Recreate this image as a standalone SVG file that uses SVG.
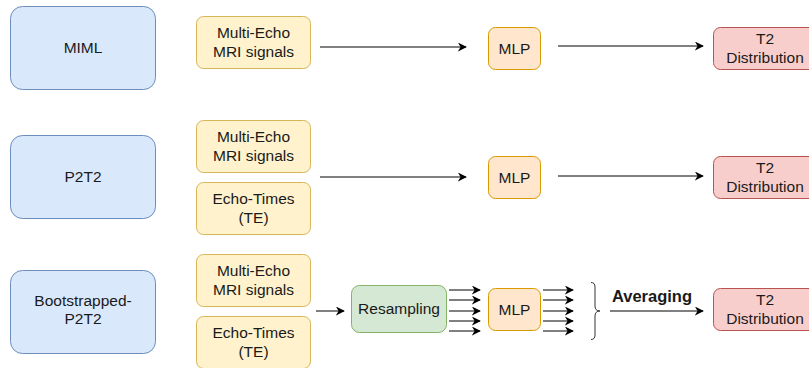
<svg xmlns="http://www.w3.org/2000/svg" width="809" height="368" viewBox="0 0 809 368">
<defs>
<marker id="ah" viewBox="0 0 10 10" refX="9" refY="5" markerWidth="9" markerHeight="9" markerUnits="userSpaceOnUse" orient="auto">
<path d="M0,0 L10,5 L0,10 L3,5 Z" fill="#000"/>
</marker>
<style>
text{font-family:"Liberation Sans",Arial,sans-serif;font-size:15.5px;fill:#1a1a1a;text-anchor:middle}
.blue{fill:#dae8fc;stroke:#6c8ebf;stroke-width:1}
.yel{fill:#fff2cc;stroke:#d6b656;stroke-width:1}
.org{fill:#ffe6cc;stroke:#d79b00;stroke-width:1}
.red{fill:#f8cecc;stroke:#b85450;stroke-width:1}
.grn{fill:#d5e8d4;stroke:#82b366;stroke-width:1}
.ln{stroke:#000;stroke-width:1;fill:none;marker-end:url(#ah)}
.bold{font-weight:bold;font-size:16.5px}
</style>
</defs>

<g id="miml"><rect class="blue" x="10.5" y="6.5" width="145" height="83" rx="12"/><text x="83" y="53">MIML</text></g>
<g id="p2t2"><rect class="blue" x="10.5" y="135.5" width="145" height="83" rx="12"/><text x="83" y="182">P2T2</text></g>
<g id="bp2t2"><rect class="blue" x="10.5" y="270.5" width="145" height="83" rx="12"/><text x="83" y="306">Bootstrapped-</text><text x="83" y="324">P2T2</text></g>

<g id="sig1"><rect class="yel" x="196.5" y="16.5" width="114" height="52" rx="7"/><text x="253.5" y="38">Multi-Echo</text><text x="253.5" y="57">MRI signals</text></g>
<g id="sig2"><rect class="yel" x="196.5" y="120.5" width="114" height="52" rx="7"/><text x="253.5" y="142">Multi-Echo</text><text x="253.5" y="161">MRI signals</text></g>
<g id="te2"><rect class="yel" x="196.5" y="182.5" width="114" height="52" rx="7"/><text x="253.5" y="204">Echo-Times</text><text x="253.5" y="223">(TE)</text></g>
<g id="sig3"><rect class="yel" x="196.5" y="254.5" width="114" height="52" rx="7"/><text x="253.5" y="276">Multi-Echo</text><text x="253.5" y="295">MRI signals</text></g>
<g id="te3"><rect class="yel" x="196.5" y="316.5" width="114" height="52" rx="7"/><text x="253.5" y="338">Echo-Times</text><text x="253.5" y="357">(TE)</text></g>

<g id="mlp1"><rect class="org" x="488.5" y="27.5" width="52" height="42" rx="7"/><text x="514.5" y="54">MLP</text></g>
<g id="mlp2"><rect class="org" x="488.5" y="156.5" width="52" height="42" rx="7"/><text x="514.5" y="183">MLP</text></g>
<g id="mlp3"><rect class="org" x="488.5" y="288.5" width="52" height="42" rx="7"/><text x="514.5" y="315">MLP</text></g>

<g id="resamp"><rect class="grn" x="351.5" y="285.5" width="95" height="47" rx="8"/><text x="399" y="314">Resampling</text></g>

<g id="t2a"><rect class="red" x="713.5" y="27.5" width="104" height="42" rx="7"/><text x="765" y="44">T2</text><text x="765" y="63">Distribution</text></g>
<g id="t2b"><rect class="red" x="713.5" y="156.5" width="104" height="42" rx="7"/><text x="765" y="173">T2</text><text x="765" y="192">Distribution</text></g>
<g id="t2c"><rect class="red" x="713.5" y="288.5" width="104" height="42" rx="7"/><text x="765" y="305">T2</text><text x="765" y="324">Distribution</text></g>

<g id="connectors">
<line class="ln" x1="320" y1="47" x2="466" y2="47"/>
<line class="ln" x1="558" y1="46" x2="703" y2="46"/>
<line class="ln" x1="320" y1="177" x2="466" y2="177"/>
<line class="ln" x1="558" y1="176" x2="703" y2="176"/>
<line class="ln" x1="316" y1="311" x2="344" y2="311"/>
<line class="ln" x1="449" y1="290" x2="480" y2="290"/>
<line class="ln" x1="449" y1="300" x2="480" y2="300"/>
<line class="ln" x1="449" y1="311" x2="480" y2="311"/>
<line class="ln" x1="449" y1="321" x2="480" y2="321"/>
<line class="ln" x1="449" y1="331" x2="480" y2="331"/>
<line class="ln" x1="543" y1="290" x2="573" y2="290"/>
<line class="ln" x1="543" y1="300" x2="573" y2="300"/>
<line class="ln" x1="543" y1="311" x2="573" y2="311"/>
<line class="ln" x1="543" y1="321" x2="573" y2="321"/>
<line class="ln" x1="543" y1="331" x2="573" y2="331"/>
<path d="M591,282.5 Q595,282.5 595,287 L595,306 Q595,311 600,311 Q595,311 595,316 L595,335 Q595,339.5 591,339.5" fill="none" stroke="#333" stroke-width="1"/>
<line class="ln" x1="610" y1="311" x2="703" y2="311"/>
<text class="bold" x="652" y="302">Averaging</text>
</g>
</svg>
